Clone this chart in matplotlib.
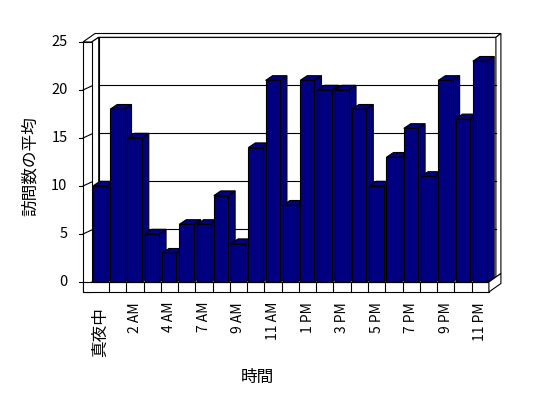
"""
Average visits per hour - Excel style 3D column chart redrawn in matplotlib
"""
import matplotlib
matplotlib.use('Agg')
import matplotlib.pyplot as plt
from matplotlib.patches import Polygon, Rectangle

plt.rcParams['font.family'] = ['Noto Sans CJK JP', 'DejaVu Sans']

# data (6 AM has no entry)
hours = ['真夜中', '1 AM', '2 AM', '3 AM', '4 AM', '5 AM', '7 AM', '8 AM',
         '9 AM', '10 AM', '11 AM', '12 PM', '1 PM', '2 PM', '3 PM', '4 PM',
         '5 PM', '6 PM', '7 PM', '8 PM', '9 PM', '10 PM', '11 PM']
visits = [10, 18, 15, 5, 3, 6, 6, 9, 4, 14, 21, 8,
          21, 20, 20, 18, 10, 13, 16, 11, 21, 17, 23]
yticks = [0, 5, 10, 15, 20, 25]
ylabel = '訪問数の平均'
xlabel = '時間'

# geometry (pixels per unit, used to set up the data scale)
PX = 17.27   # px per category
PY = 9.6     # px per value unit
X0, Y0 = 91.7, 282.0   # pixel of category 0 / value 0 on the front plane
W, H = 548, 398

n = len(visits)
ymax = yticks[-1]
ddx, ddy = 7 / PX, 4.7 / PY        # bar / wall depth
wx, wy = 5 / PX, 3.8 / PY          # back wall thickness
t = 8.7 / PX                       # side wall thickness
fh = 10 / PY                       # floor thickness
navy = '#000080'
lw = 0.8

fig = plt.figure(figsize=(W / 100, H / 100), dpi=100)
ax = fig.add_axes([0, 0, 1, 1])
ax.set_xlim(-X0 / PX, (W - X0) / PX)
ax.set_ylim((Y0 - H) / PY, Y0 / PY)
ax.axis('off')

def poly(pts, fc='white', z=1):
    ax.add_patch(Polygon(pts, closed=True, facecolor=fc, edgecolor='black',
                         linewidth=lw, zorder=z, joinstyle='miter'))

# back wall, top and right end
poly([(ddx, ddy), (n + ddx, ddy), (n + ddx, ymax + ddy), (ddx, ymax + ddy)], z=1)
poly([(-t, ymax), (0, ymax), (ddx, ymax + ddy), (n + ddx, ymax + ddy),
      (n + ddx + wx, ymax + ddy + wy), (-t + ddx + wx, ymax + ddy + wy)], z=1)
poly([(n + ddx, ddy), (n + ddx + wx, ddy + wy), (n + ddx + wx, ymax + ddy + wy),
      (n + ddx, ymax + ddy)], z=1)
# gridlines on back wall
for v in yticks[1:-1]:
    ax.plot([ddx, n + ddx], [v + ddy, v + ddy], color='black', lw=lw, zorder=2)

# side wall: inner face and front strip
poly([(0, 0), (ddx, ddy), (ddx, ymax + ddy), (0, ymax)], z=2)
poly([(-t, -fh), (0, -fh), (0, ymax), (-t, ymax)], z=2)
for v in yticks:
    ax.plot([-t - 3.5 / PX, -t], [v, v], color='black', lw=lw, zorder=3)
    if 0 < v < ymax:
        ax.plot([-t, 0], [v, v + ddy * 0.85], color='black', lw=lw, zorder=3)
    ax.text(-t - 15.5 / PX, v, str(v), ha='right', va='center', fontsize=10.5,
            zorder=5)

# floor: top, front strip with dividers, right end
poly([(0, 0), (n, 0), (n + ddx, ddy), (ddx, ddy)], z=3)
poly([(-t, -fh), (n, -fh), (n, 0), (-t, 0)], z=3)
for i in range(1, n):
    ax.plot([i, i], [-fh, 0], color='black', lw=lw, zorder=4)
poly([(n, -fh), (n + ddx + wx, -fh + ddy + wy), (n + ddx + wx, ddy + wy),
      (n, 0)], z=3)

# bars, left to right so each one covers the side of the previous
bw, off = 0.83, 0.07
for i, v in enumerate(visits):
    z = 10 + i
    x1, x2 = i + off, i + off + bw
    poly([(x2, 0), (x2 + ddx, ddy), (x2 + ddx, v + ddy), (x2, v)], fc=navy, z=z)
    poly([(x1, v), (x2, v), (x2 + ddx, v + ddy), (x1 + ddx, v + ddy)], fc=navy, z=z)
    ax.add_patch(Rectangle((x1, 0), bw, v, facecolor=navy, edgecolor='black',
                           linewidth=lw, zorder=z))

# category labels, every other hour
for i in range(0, n, 2):
    if hours[i] == '真夜中':
        ax.text(i + 0.5, -25 / PY, hours[i], rotation=90, ha='center',
                va='top', fontsize=12, zorder=5)
    else:
        ax.text(i + 0.5, -20 / PY, hours[i], rotation=90, ha='center',
                va='top', fontsize=10, zorder=5)

ax.text(-61.7 / PX, 116 / PY, ylabel, rotation=90, ha='center', va='center',
        fontsize=12)
ax.text(166 / PX, -95.5 / PY, xlabel, ha='center', va='center', fontsize=12)

fig.savefig('out.png', dpi=100)
